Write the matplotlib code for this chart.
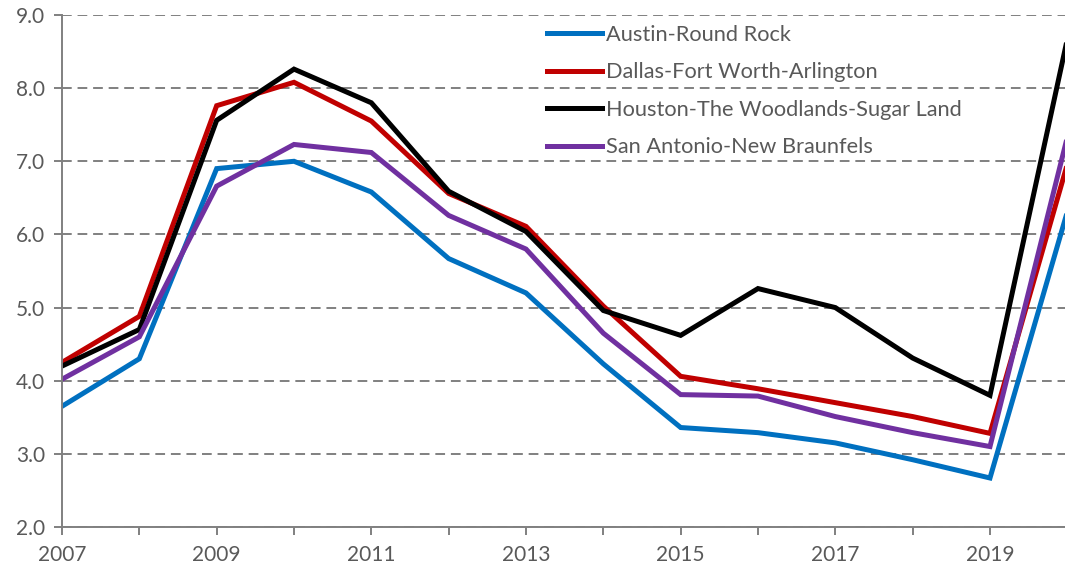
import matplotlib
matplotlib.use("Agg")
from matplotlib import pyplot as plt
from matplotlib.ticker import FormatStrFormatter, MultipleLocator

years = list(range(2007, 2021))

austin = [3.65, 4.30, 6.90, 7.00, 6.58, 5.67, 5.20, 4.23, 3.36, 3.29, 3.15, 2.92, 2.67, 6.31]
dallas = [4.25, 4.88, 7.76, 8.08, 7.55, 6.56, 6.11, 5.02, 4.06, 3.89, 3.70, 3.51, 3.28, 6.96]
houston = [4.20, 4.70, 7.56, 8.26, 7.80, 6.59, 6.04, 4.96, 4.62, 5.26, 5.00, 4.31, 3.80, 8.67]
san_antonio = [4.02, 4.60, 6.66, 7.23, 7.12, 6.26, 5.80, 4.65, 3.81, 3.79, 3.51, 3.29, 3.10, 7.33]

names = ['Austin-Round Rock', 'Dallas-Fort Worth-Arlington',
         'Houston-The Woodlands-Sugar Land', 'San Antonio-New Braunfels']
colors = ['#0070C0', '#C00000', '#000000', '#7030A0']

plt.rcParams['font.family'] = ['Lato', 'DejaVu Sans']

fig = plt.figure(figsize=(10.65, 5.73), dpi=100)
ax = fig.add_axes([62 / 1065, 46 / 573, 1 - 62 / 1065, 512 / 573])

for series, name, c in zip([austin, dallas, houston, san_antonio], names, colors):
    ax.plot(years, series, color=c, lw=3.6, label=name, solid_joinstyle='miter')

ax.set_xlim(2007, 2019.97)
ax.set_ylim(2, 9)
ax.set_xticks(list(range(2007, 2020, 2)))
ax.set_xticks(list(range(2008, 2020, 2)), minor=True)
ax.yaxis.set_major_locator(MultipleLocator(1))
ax.yaxis.set_major_formatter(FormatStrFormatter('%.1f'))

ax.grid(axis='y', color='#808080', ls=(0, (5, 3)), lw=1.4)
ax.set_axisbelow(True)
for s in ['top', 'right']:
    ax.spines[s].set_visible(False)
for s in ['left', 'bottom']:
    ax.spines[s].set_color('#808080')
    ax.spines[s].set_linewidth(1.4)

ax.tick_params(axis='both', which='both', direction='out', color='#808080',
               width=1.4, labelcolor='#595959', labelsize=15)
ax.tick_params(axis='y', length=6, pad=6)
ax.tick_params(axis='x', which='both', length=6, pad=7)

leg = ax.legend(loc='upper left', bbox_to_anchor=(547 / 1065, 1 - 25 / 573),
                bbox_transform=fig.transFigure, frameon=False, fontsize=15.7,
                handlelength=2.5, handletextpad=0.2, labelspacing=0.8,
                borderaxespad=0, borderpad=0)
for t in leg.get_texts():
    t.set_color('#595959')

fig.savefig('out.png', dpi=100)
